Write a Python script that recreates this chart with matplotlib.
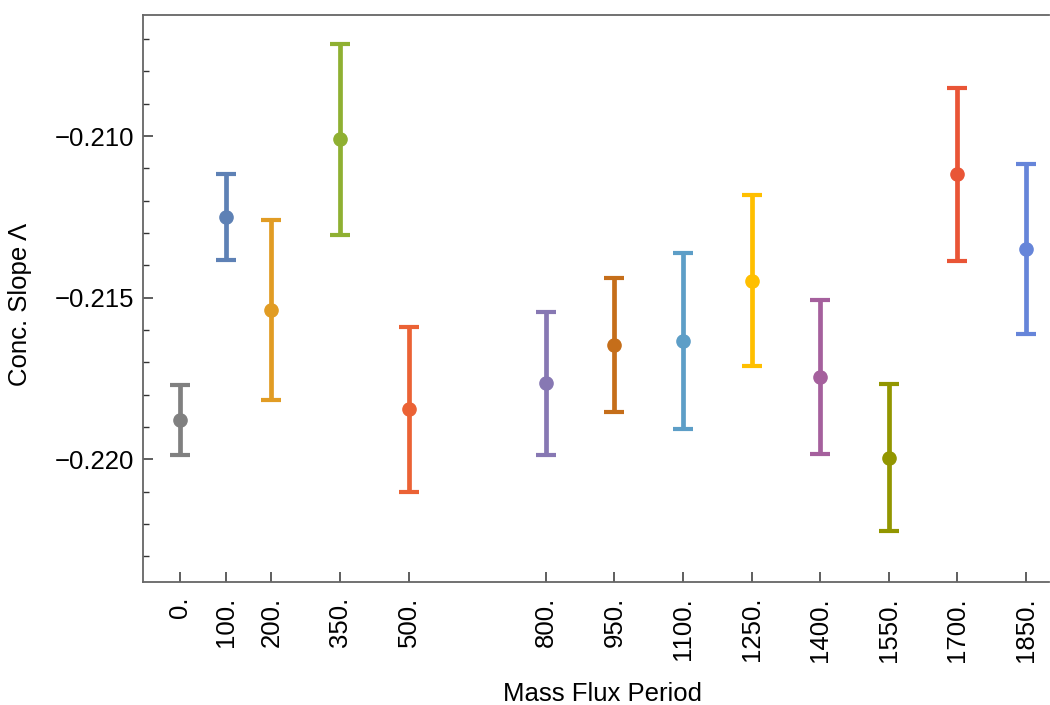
import numpy as np
import matplotlib
matplotlib.use('Agg')
import matplotlib.pyplot as plt
import matplotlib.ticker as plticker

# mass flux period, slope and its error
periods = [0, 100, 200, 350, 500, 800, 950, 1100, 1250, 1400, 1550, 1700, 1850]
slopes = [-0.21878, -0.21251, -0.21537, -0.21010, -0.21845, -0.21765, -0.21646,
          -0.21635, -0.21447, -0.21746, -0.21995, -0.21118, -0.21350]
errors = [0.00109, 0.00133, 0.00278, 0.00296, 0.00256, 0.00220, 0.00208,
          0.00272, 0.00264, 0.00238, 0.00227, 0.00268, 0.00263]
tick_labels = ['%d.' % p for p in periods]
colors = ['#808080', '#5E81B5', '#E19C24', '#8FB032', '#EB6235', '#8778B3', '#C56E1A',
          '#5D9EC7', '#FFBF00', '#A5609D', '#929600', '#E95536', '#6685D9']

plt.rcParams['font.family'] = ['Liberation Sans', 'DejaVu Sans']

fig = plt.figure(figsize=(10.5, 7.05), dpi=100)
ax = fig.add_axes([0.1362, 0.174, 0.863, 0.805])

for x, y, e, c in zip(periods, slopes, errors, colors):
    ax.errorbar(x, y, yerr=e, fmt='o', color=c, markersize=9.5,
                elinewidth=3.4, capsize=7, capthick=3)

ax.set_xlim(-81, 1901)
ax.set_ylim(-0.2238, -0.20625)

ax.set_xticks(periods)
ax.set_xticklabels(tick_labels, rotation=90)
ax.yaxis.set_major_locator(plticker.MultipleLocator(0.005))
ax.yaxis.set_minor_locator(plticker.MultipleLocator(0.001))
ax.yaxis.set_major_formatter(plticker.FuncFormatter(lambda v, p: ('%.3f' % v).replace('-', '\u2212')))

ax.tick_params(axis='both', which='major', direction='in', length=7.5, width=1.1,
               colors='#333333', labelcolor='black', labelsize=18.5)
ax.tick_params(axis='y', which='minor', direction='in', length=4.5, width=1.0, colors='#333333')
ax.tick_params(axis='x', pad=10.5)
ax.tick_params(axis='y', pad=6.5)

for s in ['left', 'bottom', 'top']:
    ax.spines[s].set_color('#666666')
    ax.spines[s].set_linewidth(1.3)
ax.spines['right'].set_visible(False)

ax.set_xlabel('Mass Flux Period', fontsize=18.5)
ax.set_ylabel('Conc. Slope \u039b', fontsize=18.5)
ax.xaxis.set_label_coords(0.507, -0.1757)
ax.yaxis.set_label_coords(-0.1227, 0.49)

fig.savefig('out.png', dpi=100)
